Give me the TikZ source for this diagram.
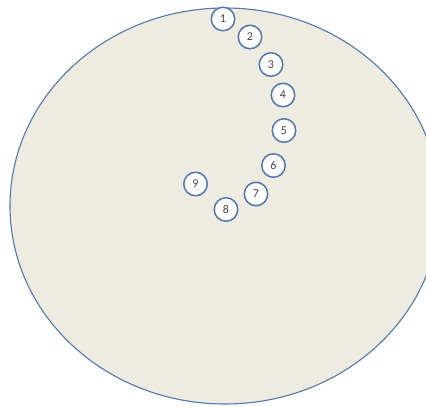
\documentclass[tikz,border=0pt]{standalone}
\usepackage{fontspec}
\setmainfont{Carlito}
\definecolor{bgtan}{RGB}{238,236,225}
\definecolor{edgeblue}{RGB}{84,120,172}
\definecolor{numgray}{RGB}{70,70,70}
\tikzset{
  numnode/.style={circle, draw=edgeblue, line width=1.5pt, fill=white, minimum size=23.5pt, inner sep=0pt, font=\fontsize{12}{12}\selectfont, text=numgray},
}
\begin{document}
\begin{tikzpicture}[x=1pt,y=-1pt]
\useasboundingbox (0,0) rectangle (426,407);
\clip (0,0) rectangle (426,407);
\fill[white] (0,0) rectangle (426,407);
\draw[draw=edgeblue, fill=bgtan, line width=1.1pt] (225,206) ellipse [x radius=215, y radius=198];
\node[numnode] (n1) at (223,19) {1};
\node[numnode] (n2) at (250,37) {2};
\node[numnode] (n3) at (271,64.5) {3};
\node[numnode] (n4) at (283,95) {4};
\node[numnode] (n5) at (284,130.5) {5};
\node[numnode] (n6) at (273.5,165.5) {6};
\node[numnode] (n7) at (256,194) {7};
\node[numnode] (n8) at (226,209.5) {8};
\node[numnode] (n9) at (195.5,184) {9};
\end{tikzpicture}
\end{document}
